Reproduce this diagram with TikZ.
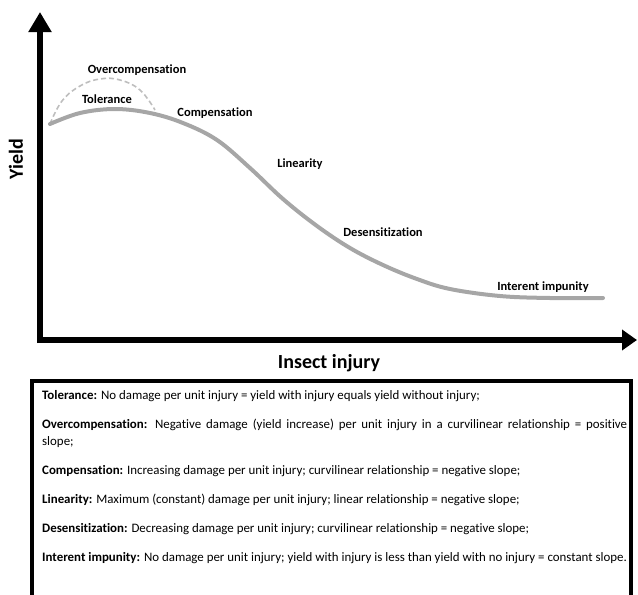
\documentclass[tikz,border=0pt]{standalone}
\usepackage{fontspec}
\setmainfont{Carlito}[RawFeature={-liga;-clig}]
\usetikzlibrary{arrows.meta}
\begin{document}
\begin{tikzpicture}[x=1pt,y=-1pt,
  axisline/.style={line width=6pt, black},
  curveline/.style={line width=4pt, color={rgb,255:red,166;green,166;blue,166}, line cap=round},
  overline/.style={line width=1.6pt, dashed, dash pattern=on 5pt off 3pt, color={rgb,255:red,190;green,190;blue,190}},
  lbl/.style={font=\bfseries\fontsize{12.5}{14}\selectfont, inner sep=0pt},
  axlbl/.style={font=\bfseries\fontsize{20}{24}\selectfont, inner sep=0pt},
  boxtxt/.style={font=\fontsize{12.9}{15}\selectfont, inner sep=0pt, anchor=west},
  frame/.style={line width=4pt, black}]
\useasboundingbox (0,0) rectangle (638,595);
\clip (0,0) rectangle (638,595);
% axes
\coordinate (corner) at (40,343);
\coordinate (ytip) at (40,12);
\coordinate (xstart) at (37,340);
\coordinate (xtip) at (637,340);
\draw[axisline, -{Triangle[length=20pt,width=22pt]}] (corner) -- (ytip);
\draw[axisline, -{Triangle[length=15pt,width=20pt]}] (xstart) -- (xtip);
\node[axlbl, rotate=90] (ylab) at (16,159) {Yield};
\node[axlbl] (xlab) at (329,363) {Insect injury};
% curves
\draw[overline] plot[smooth, tension=0.7] coordinates {(50,124) (62,101) (80,86) (100,79) (120,80) (140,90) (155,110)};
\draw[curveline] plot[smooth, tension=0.6] coordinates {(50,124) (80,113) (115,109) (150,113) (183,123) (217,140) (250,168) (283,199) (317,226) (350,248) (383,265) (417,279) (450,289) (500,296) (550,298) (603,298)};
% curve labels
\node[lbl] (lover) at (137,70) {Overcompensation};
\node[lbl] (ltol) at (107,99) {Tolerance};
\node[lbl] (lcomp) at (215,113) {Compensation};
\node[lbl] (llin) at (300,164) {Linearity};
\node[lbl] (ldes) at (383,232) {Desensitization};
\node[lbl] (limp) at (543,287) {Interent impunity};
% definition box
\draw[frame] (32,381) rectangle (631,620);
\node[boxtxt] (t1) at (42,396) {\textbf{Tolerance:} No damage per unit injury = yield with injury equals yield without injury;};
\node[boxtxt] (t2) at (42,425) {\makebox[585pt][s]{\textbf{Overcompensation:} Negative damage (yield increase) per unit injury in a curvilinear relationship = positive}};
\node[boxtxt] (t2b) at (42,442) {slope;};
\node[boxtxt] (t3) at (42,471) {\textbf{Compensation:} Increasing damage per unit injury; curvilinear relationship = negative slope;};
\node[boxtxt] (t4) at (42,500) {\textbf{Linearity:} Maximum (constant) damage per unit injury; linear relationship = negative slope;};
\node[boxtxt] (t5) at (42,529) {\textbf{Desensitization:} Decreasing damage per unit injury; curvilinear relationship = negative slope;};
\node[boxtxt] (t6) at (42,558) {\textbf{Interent impunity:} No damage per unit injury; yield with injury is less than yield with no injury = constant slope.};
\end{tikzpicture}
\end{document}
